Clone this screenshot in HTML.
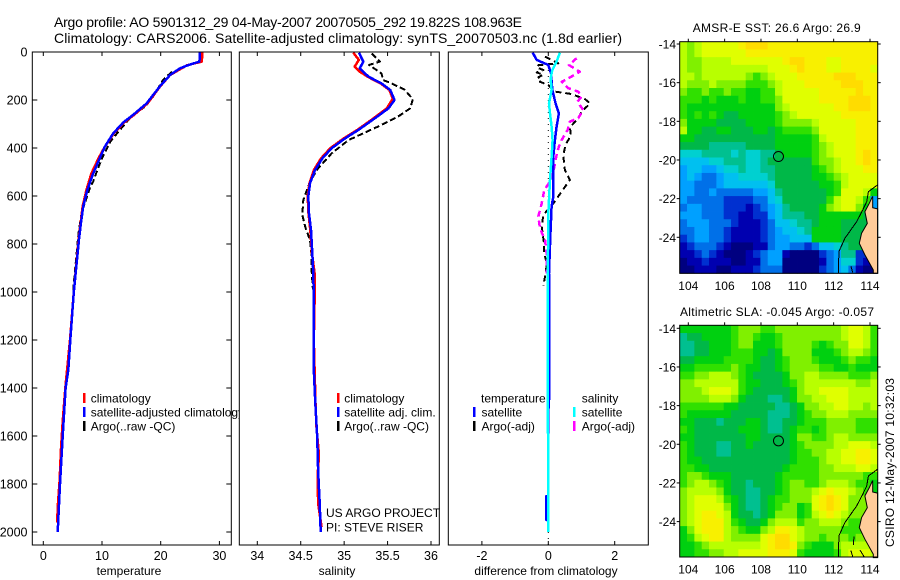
<!DOCTYPE html>
<html>
<head>
<meta charset="utf-8">
<title>Argo profile</title>
<style>
html,body{margin:0;padding:0;background:#fff;}
svg{display:block;}
text{font-family:"Liberation Sans",sans-serif;fill:#000;}
polyline{shape-rendering:crispEdges;stroke-linejoin:round;}
</style>
</head>
<body>
<svg id="chart" xmlns="http://www.w3.org/2000/svg" width="900" height="580" viewBox="0 0 900 580">
<rect width="900" height="580" fill="#fff"/>
<text x="54" y="27" font-size="14" textLength="468" lengthAdjust="spacing">Argo profile: AO 5901312_29 04-May-2007 20070505_292 19.822S 108.963E</text>
<text x="54" y="43" font-size="14" textLength="568" lengthAdjust="spacing">Climatology: CARS2006. Satellite-adjusted climatology: synTS_20070503.nc (1.8d earlier)</text>
<g id="p1"></g>
<g id="p2"></g>
<g id="p3"></g>
<g id="m1"></g>
<g id="m2"></g>
<text x="692.7" y="32" font-size="12" textLength="168" lengthAdjust="spacing">AMSR-E SST: 26.6  Argo: 26.9</text>
<text x="680" y="316" font-size="12" textLength="194" lengthAdjust="spacing">Altimetric SLA: -0.045  Argo: -0.057</text>
<text transform="translate(894,547) rotate(-90)" font-size="12" textLength="169" lengthAdjust="spacing">CSIRO 12-May-2007 10:32:03</text>
</svg>
<script>
// ---------- profile data ----------
const tempBlueDepth = [0,40,57,68,96,142,214,262,294,339,394,443,506,575,644,714,776,1000,1200,1325,1400,1600,1800,2000];
const tempBlue = [26.7,26.6,24.4,23.3,21.6,19.9,17.6,15.3,13.6,11.9,10.5,9.6,8.5,7.5,6.8,6.4,6.1,5.2,4.6,4.26,3.8,3.3,2.85,2.45];
const tempRedDepth = [0,40,55,96,142,214,262,294,339,394,443,506,575,644,714,776,1000,1200,1400,1540,1660,1780,1880,1960];
const tempRed = [27.1,27.0,24.5,21.6,19.95,17.75,15.45,13.75,12.0,10.5,9.4,8.2,7.35,6.7,6.35,6.05,5.2,4.55,3.75,3.3,3.0,2.8,2.5,2.35];
const tempArgoDepth = [82,117,186,228,262,283,332,374,443,499,540,568,672,714,756,990];
const tempArgo = [21.9,20.4,18.7,17.3,15.3,14.5,12.8,11.4,10,9.1,8.5,7.9,6.5,6.25,6,5.1];

const salBlueDepth = [3,40,68,103,131,158,200,235,276,325,360,401,443,492,547,603,672,742,839,922,1033,1200,1325,1462,1603,1742,1880,2000];
const salBlue = [35.17,35.22,35.18,35.28,35.43,35.53,35.58,35.51,35.355,35.163,35.01,34.857,34.75,34.664,34.607,34.587,34.595,34.618,34.633,34.645,34.65,34.65,34.65,34.668,34.69,34.70,34.718,34.73];
const salRedDepth = [3,33,61,82,105,131,158,195,235,276,325,360,401,443,492,547,603,672,742,839,922,1033,1200,1462,1560,1680,1760,1880,1980];
const salRed = [35.105,35.17,35.12,35.18,35.28,35.42,35.52,35.56,35.49,35.34,35.15,34.995,34.84,34.735,34.65,34.6,34.58,34.59,34.61,34.63,34.66,34.66,34.65,34.67,34.68,34.71,34.695,34.70,34.74];
const salArgoDepth = [6,40,54,89,117,131,158,197,235,269,304,332,367,422,485,540,617,679,735,783,853,915,990];
const salArgo = [35.317,35.41,35.286,35.43,35.45,35.547,35.70,35.79,35.76,35.62,35.43,35.26,35.05,34.857,34.70,34.607,34.53,34.518,34.557,34.607,34.626,34.626,34.64];

const diffTSatDepth = [3,33,54,89,158,214,256,311,367,436,533,603,644,769,922,1033,1450,1500,1850,1851,1950,1951,2000];
const diffTSat = [-0.47,-0.35,0,0.08,0.12,0.22,0.32,0.25,0.2,0.15,0.15,0.15,0.1,0.06,0.02,0.02,0.02,0,0,-0.06,-0.06,0,0];
const diffSSatDepth = [3,40,75,110,158,214,256,311,367,436,533,672,1033,2000];
const diffSSat = [0.35,0.25,0.12,0.07,0.1,0.02,0.05,0.1,0.13,0.1,0.05,0,-0.02,0];
const diffTArgoDepth = [19,47,55,64,75,85,95,105,118,124,137,165,175,197,214,249,276,314,346,388,429,492,533,592,631,679,728,797,839,881,936,975];
const diffTArgo = [-0.1,0.3,-0.3,-0.35,-0.15,-0.35,-0.15,-0.3,-0.2,-0.25,0,0.2,0.7,1.11,1.26,1.0,0.9,0.65,0.68,0.52,0.45,0.5,0.65,0.35,0.15,-0.15,-0.2,-0.13,-0.13,-0.04,-0.1,-0.15];
const diffSArgoDepth = [26,54,82,114,124,151,165,186,207,242,276,290,325,367,394,429,499,540,575,631,686,735,783,853,922];
const diffSArgo = [0.855,0.62,0.95,0.55,0.4,0.6,0.9,1,0.88,1.05,0.9,0.65,0.58,0.4,0.32,0.25,0.15,0.05,-0.12,-0.2,-0.3,-0.25,-0.1,-0.04,-0.05];

// ---------- axis ticks ----------
const depthTicks = [0,200,400,600,800,1000,1200,1400,1600,1800,2000];
const tempTicks = [0,10,20,30];
const salTicks = [34,34.5,35,35.5,36];
const diffTicks = [-2,0,2];
const lonTicks = [104,106,108,110,112,114];
const latTicks = [14,16,18,20,22,24];

// ---------- map data (colour level per cell, north to south) ----------
const sstGrid = [
[12,11,12,13,13,13,13,13,14,15,15,15,14,14,14,14,14,14,14,14,14,14,14,14,14,14,14],
[12,11,12,13,13,13,13,13,13,14,14,14,14,14,14,14,14,14,14,14,14,14,14,14,14,14,14],
[12,11,11,12,12,12,12,13,13,13,13,13,13,13,14,15,15,14,14,14,13,13,14,14,14,14,14],
[12,11,11,12,12,12,12,12,12,12,12,12,13,13,13,14,15,14,14,14,13,13,14,14,14,14,13],
[12,12,11,12,12,12,12,12,12,11,10,11,12,13,13,13,14,14,14,14,14,15,15,15,14,14,14],
[12,11,11,11,12,11,11,11,11,10,10,10,11,12,13,13,13,14,14,14,14,14,15,15,15,14,14],
[11,10,10,11,10,10,11,10,10,9,9,10,10,12,13,13,13,13,13,14,14,14,14,14,15,14,14],
[10,10,10,9,10,9,9,9,10,9,9,10,10,11,13,13,13,13,13,14,14,14,14,15,15,15,14],
[10,9,9,9,9,9,9,9,9,9,9,9,9,11,12,13,13,13,13,13,13,14,14,15,15,15,14],
[10,9,10,9,10,9,8,8,9,9,9,9,9,10,11,12,13,13,13,13,13,13,14,14,14,14,14],
[11,9,9,9,9,8,8,8,8,9,9,9,9,10,11,11,11,11,12,13,13,13,13,13,14,14,14],
[12,9,9,8,8,9,9,8,8,8,9,9,8,9,10,10,10,10,11,13,13,13,13,13,14,14,14],
[9,9,8,8,8,8,8,8,8,8,8,8,8,9,9,9,9,9,10,12,13,13,13,13,14,14,14],
[8,8,8,8,7,7,7,7,7,8,8,8,8,9,9,9,9,9,10,11,12,13,13,13,14,14,14],
[6,6,6,7,7,7,7,6,7,6,6,7,7,8,9,9,9,9,10,11,12,13,13,13,14,15,14],
[5,5,5,5,6,6,7,7,7,6,6,7,8,8,8,8,8,8,10,11,11,12,13,13,14,15,14],
[4,5,5,4,4,5,6,6,7,6,6,7,7,8,8,8,8,8,9,10,11,12,13,13,13,14,14],
[4,5,4,3,3,4,5,5,6,6,6,6,7,8,8,8,8,8,9,9,10,11,12,13,13,13,13],
[4,4,3,3,3,4,5,5,5,5,5,5,6,8,8,8,8,8,8,9,9,10,12,13,13,13,13],
[4,4,3,3,4,3,3,3,3,3,4,4,5,7,8,8,8,8,8,8,9,10,13,13,13,12,9],
[4,3,3,3,3,3,2,2,2,2,3,3,5,6,8,8,8,8,8,8,10,12,13,13,12,10,4],
[3,4,4,3,3,3,2,2,2,1,2,3,4,5,7,8,8,8,8,9,11,12,13,13,11,9,4],
[4,4,4,3,3,3,2,2,1,1,2,2,4,5,7,7,7,8,8,9,9,9,9,9,9,8,8],
[3,4,4,4,3,3,3,2,1,1,1,2,3,5,5,6,7,7,8,9,9,9,8,8,8,8,8],
[3,3,4,4,3,3,2,1,1,1,1,2,3,4,5,5,6,7,9,9,9,9,8,8,8,8,8],
[2,3,4,4,3,3,2,1,1,1,1,2,3,4,4,5,5,5,9,9,9,9,8,8,8,8,8],
[1,2,3,3,3,2,1,0,0,0,1,1,3,4,4,3,3,2,3,5,5,6,7,8,8,8,8],
[1,1,2,3,2,1,0,0,0,1,2,3,4,4,1,0,0,0,0,2,3,4,7,7,2,2,2],
[0,1,1,2,1,1,1,0,0,1,1,3,4,4,0,0,0,0,0,1,3,4,6,6,2,1,0],
[0,0,1,1,1,0,0,1,1,1,2,3,3,3,0,0,0,0,0,2,3,4,5,3,1,0,0]
];
const slaGrid = [
[9,9,9,9,9,9,9,10,11,11,11,10,10,11,11,11,11,11,11,11,11,11,12,13,13,12,10],
[7,8,8,9,9,9,9,10,11,11,10,9,9,10,11,11,11,11,11,11,11,11,12,13,13,12,10],
[7,7,8,8,9,9,9,10,11,11,9,9,9,10,11,11,11,11,10,9,10,11,11,13,13,12,10],
[7,7,8,8,9,9,9,10,10,10,9,9,8,9,11,11,11,11,9,9,9,10,11,12,12,11,10],
[8,8,9,9,9,9,10,10,10,10,9,8,8,9,10,11,11,11,10,9,9,9,10,11,10,10,9],
[9,9,10,10,10,10,10,11,10,9,9,8,8,9,10,11,11,11,11,10,10,9,9,10,9,9,9],
[10,10,11,11,12,12,12,11,10,9,8,8,8,8,9,11,11,12,12,11,11,11,11,10,10,10,11],
[11,11,12,12,12,12,12,12,10,9,9,8,8,8,9,10,11,12,12,12,12,12,12,12,11,11,12],
[11,11,11,12,13,13,13,12,10,9,8,8,8,8,8,9,11,12,12,13,13,13,13,12,12,12,12],
[11,11,11,11,12,12,12,11,9,8,8,8,7,7,8,9,11,11,12,12,13,13,13,12,12,12,12],
[10,10,10,10,10,10,9,9,8,8,8,8,8,7,7,8,9,11,11,12,12,13,13,12,12,11,12],
[10,9,9,9,9,9,9,8,8,8,8,8,7,7,7,8,9,10,11,11,12,12,12,11,11,11,11],
[9,9,8,8,8,7,8,8,8,9,9,8,7,7,8,8,9,10,10,10,11,11,11,11,10,10,10],
[10,9,8,8,8,8,8,8,9,9,9,8,7,7,8,9,10,10,9,10,11,11,11,11,10,10,10],
[9,9,8,8,8,8,8,8,8,9,9,8,8,8,8,9,11,11,10,10,11,12,12,11,11,11,11],
[10,9,8,8,8,7,7,8,8,9,8,8,8,8,8,9,10,11,11,11,11,12,12,13,13,13,12],
[10,9,8,8,8,7,7,8,8,8,8,8,8,8,8,9,10,10,11,11,12,12,13,13,14,14,13],
[10,9,9,8,8,8,8,8,8,8,8,8,8,8,8,9,10,10,10,11,12,12,13,13,14,14,13],
[10,10,9,9,8,8,8,8,8,8,8,8,8,8,9,10,10,10,10,11,11,12,12,12,13,13,12],
[10,11,11,10,9,9,9,8,8,8,8,8,8,9,10,10,10,10,10,11,11,11,11,11,11,10,10],
[10,11,12,12,11,10,9,8,8,7,8,8,8,9,10,11,11,10,10,11,12,12,12,11,10,10,9],
[11,12,12,12,12,11,9,8,8,7,7,8,8,9,10,11,11,11,12,13,14,13,13,12,11,10,9],
[11,12,13,13,13,12,10,9,8,7,7,8,9,10,10,11,11,11,13,14,15,14,13,11,11,11,11],
[11,12,13,13,13,13,11,9,8,7,7,8,9,10,11,11,9,10,13,14,15,14,13,11,11,11,11],
[11,12,13,14,14,13,12,9,8,8,7,8,9,11,11,11,9,10,12,13,14,13,12,11,11,11,11],
[11,12,13,14,14,14,12,10,9,8,8,9,11,12,12,12,10,11,11,12,12,12,11,10,10,10,10],
[9,11,13,14,14,14,12,11,10,9,9,11,12,14,14,13,12,11,11,11,11,11,10,10,10,10,10],
[9,10,12,13,14,14,12,11,11,11,11,13,14,15,15,13,12,11,11,10,11,11,11,10,11,11,11],
[9,9,10,11,12,12,12,12,12,12,12,13,14,15,15,14,11,10,9,9,9,11,12,12,12,12,12],
[9,9,10,10,11,11,12,12,13,13,13,13,14,14,14,13,10,9,9,9,9,10,12,13,13,13,12]
];
const levelColors = ["#000080","#0000b0","#0030d0","#0070e8","#00a0ff","#00c0f0","#00d0d0","#00c090","#00b848","#00d010","#30e000","#80f000","#b8ff00","#e0ff00","#f8f000","#ffdc00"];
const landLon = [114.13,113.96,113.72,113.85,113.54,113.41,113.72,114.18,114.18,114.42,114.42,114.15,114.15];
const landLat = [21.9,22.24,22.67,23.28,23.79,24.31,24.91,25.69,25.86,25.86,22.53,22.47,21.9];
const shelfLon = [114.42,113.91,113.82,113.6,113.27,112.62,112.29,112.26];
const shelfLat = [21.29,21.64,22.16,22.59,23.19,24.05,24.74,25.86];
const floatLon = 108.963;
const floatLat = 19.822;

// ---------- helpers ----------
const NS = "http://www.w3.org/2000/svg";
function mk(parent, tag, attrs, txt){
  const e = document.createElementNS(NS, tag);
  for(const k in attrs) e.setAttribute(k, attrs[k]);
  if(txt !== undefined) e.textContent = txt;
  parent.appendChild(e);
  return e;
}
function yDepth(d){ return 52 + d * 0.24; }
function ptsOf(xs, ds, xf){ return xs.map((v,i)=>xf(v).toFixed(1)+","+yDepth(ds[i]).toFixed(1)).join(" "); }

function drawPanel(gid, left, right, xf, xTicks, xLabel, labelX, showY){
  const g = document.getElementById(gid);
  const top = 52, bottom = 545;
  const bg = mk(g,"rect",{x:left,y:top,width:right-left,height:bottom-top,fill:"#fff"});
  
  
  xTicks.forEach(t=>{
    const x = xf(t);
    const t1 = mk(g,"line",{x1:x,x2:x,y1:top,y2:top+4,stroke:"#000","stroke-width":1});
    
    
    const t2 = mk(g,"line",{x1:x,x2:x,y1:bottom,y2:bottom-4,stroke:"#000","stroke-width":1});
    
    
    const l = mk(g,"text",{x:x,y:560,"font-size":12.5,"text-anchor":"middle"},String(t));
    
    
  });
  if(showY){
    depthTicks.forEach(d=>{
      const y = yDepth(d);
      const a = mk(g,"line",{x1:left,x2:left+5,y1:y,y2:y,stroke:"#000","stroke-width":1});
      
      
      const b = mk(g,"line",{x1:right,x2:right-5,y1:y,y2:y,stroke:"#000","stroke-width":1});
      
      
      const l = mk(g,"text",{x:27.5,y:y+4.5,"font-size":12.5,"text-anchor":"end"},String(d));
      
      
    });
  }
  const xl = mk(g,"text",{x:labelX,y:575,"font-size":12,"text-anchor":"middle"},xLabel);
  
  
  return g;
}
function frame(g,left,right){
  const f = mk(g,"rect",{x:left,y:52,width:right-left,height:493,fill:"none",stroke:"#000","stroke-width":1});
  
  
}
function series(g,xs,ds,xf,color,width,dash,name){
  const attrs = {points:ptsOf(xs,ds,xf),fill:"none",stroke:color,"stroke-width":width};
  if(dash) attrs["stroke-dasharray"] = dash;
  const p = mk(g,"polyline",attrs);
  
  
}
function legend(g,barX,textX,y,color,label){
  if(color){
    const b = mk(g,"rect",{x:barX-1,y:y-5,width:2.5,height:10,fill:color});
    
    
  }
  const t = mk(g,"text",{x:textX,y:y+4.5,"font-size":12},label);
  
  
}

// ---------- temperature ----------
const xT = v => 43.3 + v * 5.87;
const g1 = drawPanel("p1",32.3,231.3,xT,tempTicks,"temperature",129,true);
series(g1,tempArgo,tempArgoDepth,xT,"#000",2,"6 3","temperature-argo-line");
series(g1,tempRed,tempRedDepth,xT,"#f00",2.5,null,"temperature-climatology-line");
series(g1,tempBlue,tempBlueDepth,xT,"#00f",2.5,null,"temperature-satellite-line");
legend(g1,84,90.7,398,"#f00","climatology");
legend(g1,84,90.7,412,"#00f","satellite-adjusted climatology");
legend(g1,84,90.7,426,"#000","Argo(..raw -QC)");
frame(g1,32.3,231.3);

// ---------- salinity ----------
const xS = v => 257.3 + (v - 34) * 86.85;
const g2 = drawPanel("p2",239.3,439.3,xS,salTicks,"salinity",337,false);
series(g2,salArgo,salArgoDepth,xS,"#000",2,"6 3","salinity-argo-line");
series(g2,salRed,salRedDepth,xS,"#f00",2.5,null,"salinity-climatology-line");
series(g2,salBlue,salBlueDepth,xS,"#00f",2.5,null,"salinity-satellite-line");
legend(g2,338,344.3,398,"#f00","climatology");
legend(g2,338,344.3,412,"#00f","satellite adj. clim.");
legend(g2,338,344.3,426,"#000","Argo(..raw -QC)");
frame(g2,239.3,439.3);
legend(g2,0,326,512.5,null,"US ARGO PROJECT");
legend(g2,0,326,527,null,"PI: STEVE RISER");

// ---------- difference ----------
const xD = v => 548.3 + v * 33.2;
const g3 = drawPanel("p3",448.3,648.3,xD,diffTicks,"difference from climatology",546,false);
const zl = mk(g3,"line",{x1:xD(0),x2:xD(0),y1:52,y2:545,stroke:"#000","stroke-width":1,"stroke-dasharray":"1 5"});


series(g3,diffTArgo,diffTArgoDepth,xD,"#000",2,"6 4","difference-temperature-argo-line");
series(g3,diffSArgo,diffSArgoDepth,xD,"#f0f",2.5,"6 4","difference-salinity-argo-line");
series(g3,diffTSat,diffTSatDepth,xD,"#00f",2.5,null,"difference-temperature-satellite-line");
series(g3,diffSSat,diffSSatDepth,xD,"#0ff",2.5,null,"difference-salinity-satellite-line");
legend(g3,0,481,398,null,"temperature");
legend(g3,474,481.5,412,"#00f","satellite");
legend(g3,474,481.5,426,"#000","Argo(-adj)");
legend(g3,0,581.7,398,null,"salinity");
legend(g3,574,581.7,412,"#0ff","satellite");
legend(g3,574,581.7,426,"#f0f","Argo(-adj)");
frame(g3,448.3,648.3);

// ---------- maps ----------
function drawMap(gid, grid, top, bottom, y14, extraCoast){
  const g = document.getElementById(gid);
  const left = 679.7, right = 877.7;
  const xLon = lon => 688.3 + (lon - 104) * 18.17;
  const yLat = lat => y14 + (lat - 14) * 19.33;
  const lon0 = (left - 688.3) / 18.17 + 104;
  const lat0 = (top - y14) / 19.33 + 14;
  const dLon = (right - left) / 18.17 / 27;
  const dLat = (bottom - top) / 19.33 / 30;
  const bg = mk(g,"rect",{x:left,y:top,width:right-left,height:bottom-top,fill:"#ffcc99"});
  
  
  grid.forEach((row,r)=>{
    row.forEach((v,c)=>{
      const x0 = xLon(lon0 + c * dLon), x1 = xLon(lon0 + (c + 1) * dLon);
      const y0 = yLat(lat0 + r * dLat), y1 = yLat(lat0 + (r + 1) * dLat);
      const idx = Math.max(0, Math.min(levelColors.length - 1, Math.round(v)));
      const cell = mk(g,"rect",{x:x0.toFixed(2),y:y0.toFixed(2),width:(x1-x0+0.4).toFixed(2),height:(y1-y0+0.4).toFixed(2),fill:levelColors[idx]});
      
      
    });
  });
  const land = mk(g,"polygon",{points:landLon.map((v,i)=>xLon(v).toFixed(1)+","+yLat(landLat[i]).toFixed(1)).join(" "),fill:"#ffcc99",stroke:"#000","stroke-width":1});
  
  
  const shelf = mk(g,"polyline",{points:shelfLon.map((v,i)=>xLon(v).toFixed(1)+","+yLat(shelfLat[i]).toFixed(1)).join(" "),fill:"none",stroke:"#000","stroke-width":1});
  
  
  extraCoast.forEach(seg=>{
    const s = mk(g,"polyline",{points:seg.map(p=>xLon(p[0]).toFixed(1)+","+yLat(p[1]).toFixed(1)).join(" "),fill:"none",stroke:"#000","stroke-width":1});
    
    
  });
  const circ = mk(g,"circle",{cx:xLon(floatLon),cy:yLat(floatLat),r:5,fill:"none",stroke:"#000","stroke-width":1});
  
  
  const fr = mk(g,"rect",{x:left,y:top,width:right-left,height:bottom-top,fill:"none",stroke:"#000","stroke-width":1});
  
  
  lonTicks.forEach(t=>{
    const x = xLon(t);
    const tk = mk(g,"line",{x1:x,x2:x,y1:top,y2:top-3,stroke:"#000","stroke-width":1});
    
    
    const l = mk(g,"text",{x:x,y:bottom+16.5,"font-size":12,"text-anchor":"middle"},String(t));
    
    
  });
  latTicks.forEach(t=>{
    const y = yLat(t);
    const a = mk(g,"line",{x1:left,x2:left-3,y1:y,y2:y,stroke:"#000","stroke-width":1});
    
    
    const b = mk(g,"line",{x1:right,x2:right+3,y1:y,y2:y,stroke:"#000","stroke-width":1});
    
    
    const l = mk(g,"text",{x:676,y:y+4.5,"font-size":12,"text-anchor":"end"},"-"+t);
    
    
  });
}
drawMap("m1",sstGrid,41.7,273.3,44,[[[112.95,25.5],[113.05,25.81]]]);
drawMap("m2",slaGrid,325.3,557,328.3,[[[113.12,24.78],[113.08,25.2]],[[112.95,25.5],[113.05,25.81]],[[113.45,25.47],[113.67,25.81]]]);
</script>
</body>
</html>
